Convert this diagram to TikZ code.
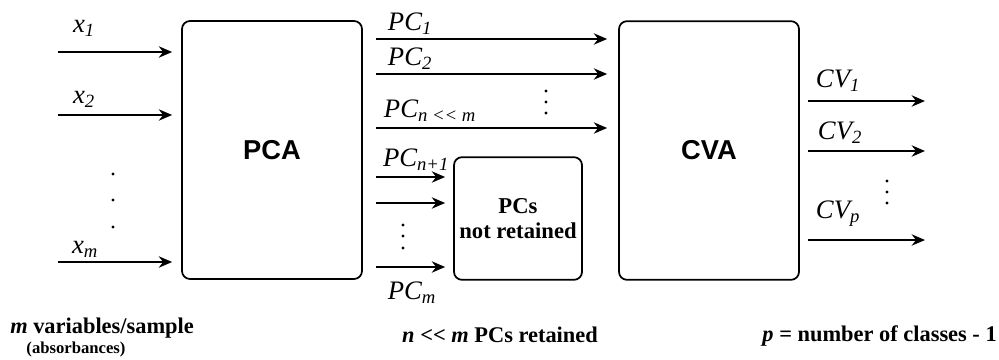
\documentclass[tikz,border=0pt]{standalone}
\usepackage{fontspec}
\setmainfont{Liberation Serif}
\newfontfamily\arialfont{Liberation Sans}
\usepackage{tikz}
\usetikzlibrary{arrows.meta,positioning}

\tikzset{box/.style={draw,line width=1.3pt,rounded corners=6pt,inner sep=0pt},
lbl/.style={font=\fontsize{20}{22}\selectfont\itshape,inner sep=0pt},
btm/.style={font=\fontsize{16.8}{18}\selectfont\bfseries,inner sep=0pt},
arr/.style={-{Stealth[length=10pt,width=8.5pt]},line width=1.4pt}}

\begin{document}
\begin{tikzpicture}[x=0.75pt,y=-0.75pt]
\useasboundingbox(0,0)rectangle(999,360);
\node[box,minimum width=135pt,minimum height=193.5pt,font=\fontsize{20.5}{22}\selectfont\arialfont\bfseries](pca)at(272,150){PCA};
\node[box,minimum width=135pt,minimum height=194pt,font=\fontsize{20.5}{22}\selectfont\arialfont\bfseries](cva)at(709,150.5){CVA};
\node[box,minimum width=96pt,minimum height=92pt,align=center,font=\fontsize{17}{19}\selectfont\bfseries](nr)at(518,218.5){PCs\\not retained};
% inputs
\coordinate(in1)at(58,52);
\coordinate(in2)at(58,115);
\coordinate(inm)at(58,262);
\foreach \c in {in1,in2,inm}
\draw[arr,shorten >=6.75pt](\c)--(\c -| pca.west);
\node[lbl](lx1)at(84,28){x\textsubscript{1}};
\node[lbl](lx2)at(84,99){x\textsubscript{2}};
\node[lbl](lxm)at(85,249){x\textsubscript{m}};
\foreach \y in {174,200,227}
\fill(113,\y)circle(1.6);
% retained PCs
\coordinate(pc1)at(376,39);
\coordinate(pc2)at(376,74);
\coordinate(pcn)at(376,128);
\foreach \c in {pc1,pc2,pcn}
\draw[arr,shorten >=8.25pt](\c)--(\c -| cva.west);
\node[lbl](lpc1)at(410,24){PC\textsubscript{1}};
\node[lbl](lpc2)at(410,59){PC\textsubscript{2}};
\node[lbl](lpcn)at(430,111){PC\textsubscript{n <{}< m}};
\foreach \y in {91,102,113}
\fill(546,\y)circle(1.6);
% PCs not retained
\coordinate(pr1)at(376,177);
\coordinate(pr2)at(376,203);
\coordinate(prm)at(376,267);
\foreach \c in {pr1,pr2,prm}
\draw[arr,shorten >=6pt](\c)--(\c -| nr.west);
\node[lbl](lpr1)at(416,160){PC\textsubscript{n+1}};
\node[lbl](lprm)at(412,293){PC\textsubscript{m}};
\foreach \y in {225,236,248}
\fill(403,\y)circle(1.6);
% outputs
\coordinate(cv1)at(925,101);
\coordinate(cv2)at(925,151);
\coordinate(cvp)at(925,240);
\foreach \c in {cv1,cv2,cvp}
\draw[arr,shorten <=6pt](cva.east |- \c)--(\c);
\node[lbl](lcv1)at(838,81){CV\textsubscript{1}};
\node[lbl](lcv2)at(840,133){CV\textsubscript{2}};
\node[lbl](lcvp)at(838,214){CV\textsubscript{p}};
\foreach \y in {181,192,203}
\fill(887,\y)circle(1.6);
% notes
\node[btm,anchor=west](nvar)at(10,328){\textit{m} variables/sample};
\node[font=\fontsize{12.5}{14}\selectfont\bfseries,inner sep=0pt](nabs)at(76,349){(absorbances)};
\node[btm](nret)at(500,335){\textit{n} <{}< \textit{m} PCs retained};
\node[btm,anchor=east](ncls)at(997,336){\textit{p} = number of classes - 1};
\end{tikzpicture}
\end{document}
